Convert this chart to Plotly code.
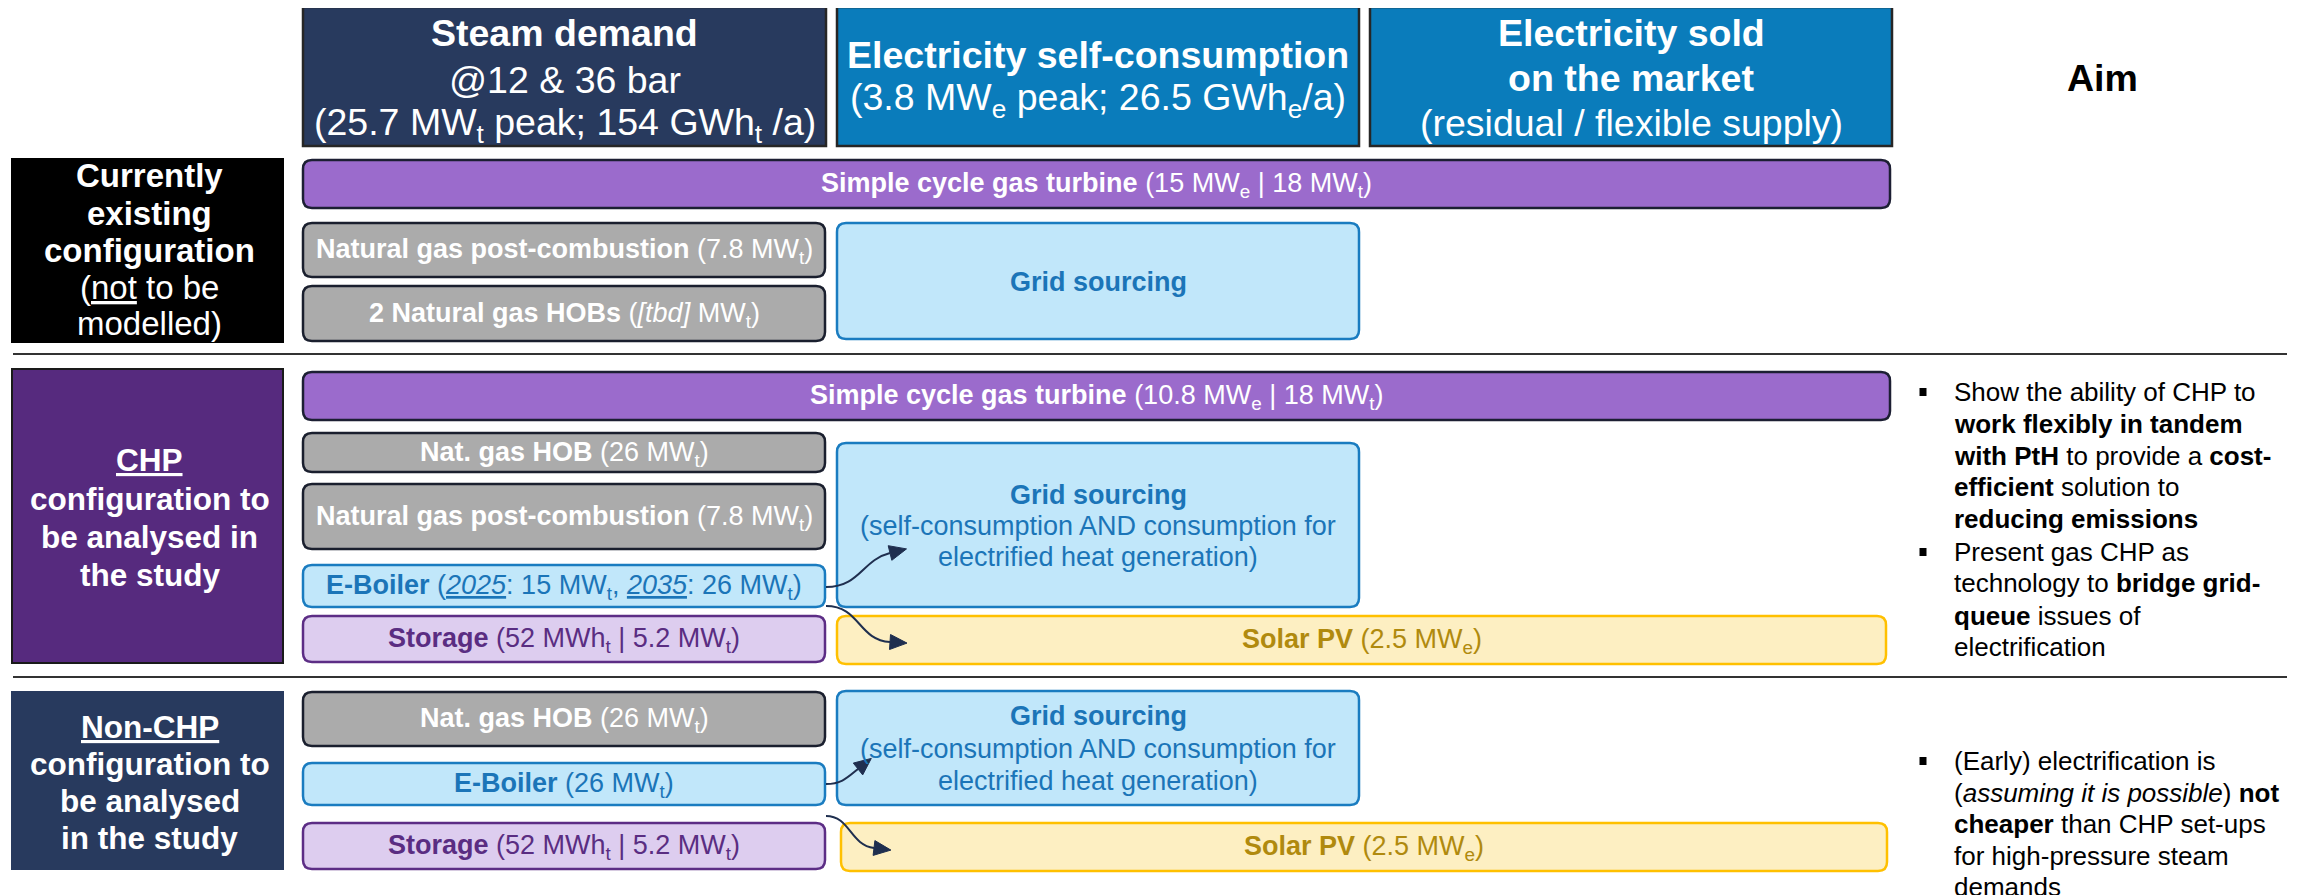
import plotly.graph_objects as go

W, H = 2315, 895
OFF = 8  # default page margin of the browser body
FONT = "Liberation Sans, Arial, sans-serif"

# ---------------- content ----------------
header_titles = [
    ["<b>Steam demand</b>", "@12 &amp; 36 bar", "(25.7 MW<sub>t</sub> peak; 154 GWh<sub>t</sub> /a)"],
    ["<b>Electricity self-consumption</b>", "(3.8 MW<sub>e</sub> peak; 26.5 GWh<sub>e</sub>/a)"],
    ["<b>Electricity sold</b>", "<b>on the market</b>", "(residual / flexible supply)"],
]
aim_title = "<b>Aim</b>"

row_labels = [
    ["<b>Currently</b>", "<b>existing</b>", "<b>configuration</b>", "(<u>not</u> to be", "modelled)"],
    ["<b><u>CHP</u></b>", "<b>configuration to</b>", "<b>be analysed in</b>", "<b>the study</b>"],
    ["<b><u>Non-CHP</u></b>", "<b>configuration to</b>", "<b>be analysed</b>", "<b>in the study</b>"],
]

tech_labels = [
    # row 1
    ["<b>Simple cycle gas turbine</b> (15 MW<sub>e</sub> | 18 MW<sub>t</sub>)"],
    ["<b>Natural gas post-combustion</b> (7.8 MW<sub>t</sub>)"],
    ["<b>2 Natural gas HOBs</b> (<i>[tbd]</i> MW<sub>t</sub>)"],
    ["<b>Grid sourcing</b>"],
    # row 2
    ["<b>Simple cycle gas turbine</b> (10.8 MW<sub>e</sub> | 18 MW<sub>t</sub>)"],
    ["<b>Nat. gas HOB</b> (26 MW<sub>t</sub>)"],
    ["<b>Natural gas post-combustion</b> (7.8 MW<sub>t</sub>)"],
    ["<b>E-Boiler</b> (<u><i>2025</i></u>: 15 MW<sub>t</sub>, <u><i>2035</i></u>: 26 MW<sub>t</sub>)"],
    ["<b>Storage</b> (52 MWh<sub>t</sub> | 5.2 MW<sub>t</sub>)"],
    ["<b>Grid sourcing</b>", "(self-consumption AND consumption for", "electrified heat generation)"],
    ["<b>Solar PV</b> (2.5 MW<sub>e</sub>)"],
    # row 3
    ["<b>Nat. gas HOB</b> (26 MW<sub>t</sub>)"],
    ["<b>E-Boiler</b> (26 MW<sub>t</sub>)"],
    ["<b>Storage</b> (52 MWh<sub>t</sub> | 5.2 MW<sub>t</sub>)"],
    ["<b>Grid sourcing</b>", "(self-consumption AND consumption for", "electrified heat generation)"],
    ["<b>Solar PV</b> (2.5 MW<sub>e</sub>)"],
]
tech_kinds = ["gt", "gray", "gray", "grid",
              "gt", "gray", "gray", "eboiler", "storage", "grid", "solar",
              "gray", "eboiler", "storage", "grid", "solar"]

aim_bullets = [
    ["Show the ability of CHP to", "<b>work flexibly in tandem</b>",
     "<b>with PtH</b> to provide a <b>cost-</b>", "<b>efficient</b> solution to",
     "<b>reducing emissions</b>"],
    ["Present gas CHP as", "technology to <b>bridge grid-</b>",
     "<b>queue</b> issues of", "electrification"],
    ["(Early) electrification is", "(<i>assuming it is possible</i>) <b>not</b>",
     "<b>cheaper</b> than CHP set-ups", "for high-pressure steam", "demands"],
]

# ---------------- geometry / styles ----------------
header_boxes = [(303, 7, 826, 146), (837, 7, 1359, 146), (1370, 7, 1892, 146)]
header_fill = ["#283a5e", "#0a7cbb", "#0a7cbb"]
header_line_y = [[33, 80, 125], [55, 100], [33, 78, 123]]
aim_pos = (2102, 78)

label_boxes = [(12, 159, 283, 342), (12, 369, 283, 663), (12, 692, 283, 869)]
label_fill = ["#000000", "#562a7e", "#283a5e"]
label_border = ["#000000", "#1a1a1a", "#283a5e"]
label_sizes = [33, 31.5, 31.5]
label_line_y = [[175, 213, 250, 287, 323], [460, 499, 537, 575], [727, 764, 801, 838]]

tech_boxes = [
    (303, 160, 1890, 208), (303, 223, 825, 277), (303, 286, 825, 341), (837, 223, 1359, 339),
    (303, 372, 1890, 420), (303, 433, 825, 472), (303, 484, 825, 549), (303, 565, 825, 607),
    (303, 616, 825, 662), (837, 443, 1359, 607), (837, 616, 1886, 664),
    (303, 692, 825, 746), (303, 763, 825, 805), (303, 823, 825, 869), (837, 691, 1359, 805),
    (841, 823, 1887, 871),
]
tech_line_y = {9: [495, 526, 557], 14: [716, 749, 781]}

styles = {
    "gt": dict(fill="#9b6bcc", line="#1c1f33", text="#ffffff"),
    "gray": dict(fill="#ababab", line="#1a1f2e", text="#ffffff"),
    "grid": dict(fill="#c1e7fa", line="#1a7cc0", text="#1b75b8"),
    "eboiler": dict(fill="#c1e7fa", line="#1a7cc0", text="#1b75b8"),
    "storage": dict(fill="#ddcdef", line="#5c2d85", text="#5a2d82"),
    "solar": dict(fill="#fdefc2", line="#ffc000", text="#b08a0e"),
}

HEADER_SIZE, BOX_SIZE, AIM_SIZE = 37.5, 27, 26

separators_y = [354, 677]
aim_x_bullet, aim_x_text = 1923, 1952
aim_line_y = [[392, 424, 456, 487, 519], [552, 583, 616, 647], [761, 793, 824, 856, 887]]

# arrows: P0, C1, C2, P3 (curve), head drawn along C2->P3 tangent
arrows = [
    [(826, 587), (860, 587), (862, 560), (890, 553)],
    [(826, 606), (860, 606), (858, 640), (890, 642)],
    [(826, 784), (842, 784), (848, 777), (858, 769)],
    [(826, 816), (850, 816), (850, 845), (874, 848)],
]
ARROW_COLOR = "#1f2f4f"

# ---------------- build ----------------
fig = go.Figure()
fig.add_trace(go.Scatter(x=[OFF, W], y=[OFF, H], mode="markers",
                         marker=dict(opacity=0), hoverinfo="skip", showlegend=False))

shapes = []
annotations = []


def rrect(x0, y0, x1, y1, r=8):
    return (f"M{x0+r},{y0} L{x1-r},{y0} Q{x1},{y0} {x1},{y0+r} L{x1},{y1-r} "
            f"Q{x1},{y1} {x1-r},{y1} L{x0+r},{y1} Q{x0},{y1} {x0},{y1-r} "
            f"L{x0},{y0+r} Q{x0},{y0} {x0+r},{y0} Z")


def text(x, y, t, size, color, xanchor="center"):
    annotations.append(dict(x=x, y=y, xref="x", yref="y", text=t, showarrow=False,
                            xanchor=xanchor, yanchor="middle",
                            font=dict(family=FONT, size=size, color=color)))


# headers
for (x0, y0, x1, y1), fill, lines, ys in zip(header_boxes, header_fill, header_titles, header_line_y):
    shapes.append(dict(type="rect", x0=x0, y0=y0, x1=x1, y1=y1, xref="x", yref="y",
                       fillcolor=fill, line=dict(color="#262626", width=2.5), layer="below"))
    for t, yy in zip(lines, ys):
        text((x0 + x1) / 2, yy, t, HEADER_SIZE, "#ffffff")
text(aim_pos[0], aim_pos[1], aim_title, HEADER_SIZE, "#000000")

# row labels
for (x0, y0, x1, y1), fill, bc, sz, lines, ys in zip(label_boxes, label_fill, label_border,
                                                     label_sizes, row_labels, label_line_y):
    shapes.append(dict(type="rect", x0=x0, y0=y0, x1=x1, y1=y1, xref="x", yref="y",
                       fillcolor=fill, line=dict(color=bc, width=2), layer="below"))
    for t, yy in zip(lines, ys):
        text((x0 + x1) / 2 + 2, yy, t, sz, "#ffffff")

# separators
for sy in separators_y:
    shapes.append(dict(type="line", x0=13, x1=2287, y0=sy, y1=sy, xref="x", yref="y",
                       line=dict(color="#333333", width=2)))

# technology boxes
for i, ((x0, y0, x1, y1), kind, lines) in enumerate(zip(tech_boxes, tech_kinds, tech_labels)):
    st = styles[kind]
    shapes.append(dict(type="path", path=rrect(x0, y0, x1, y1, 9), xref="x", yref="y",
                       fillcolor=st["fill"], line=dict(color=st["line"], width=2.5), layer="below"))
    if i in tech_line_y:
        ys = tech_line_y[i]
    else:
        ys = [(y0 + y1) / 2 + 1]
    for t, yy in zip(lines, ys):
        text((x0 + x1) / 2, yy, t, BOX_SIZE, st["text"])

# arrows
for p0, c1, c2, p3 in arrows:
    shapes.append(dict(type="path",
                       path=f"M{p0[0]},{p0[1]} C{c1[0]},{c1[1]} {c2[0]},{c2[1]} {p3[0]},{p3[1]}",
                       xref="x", yref="y", line=dict(color=ARROW_COLOR, width=2)))
    dx, dy = p3[0] - c2[0], p3[1] - c2[1]
    n = (dx ** 2 + dy ** 2) ** 0.5
    ux, uy = dx / n, dy / n
    px, py = -uy, ux
    L, Wd = 17, 15
    tip = (p3[0] + ux * L, p3[1] + uy * L)
    b1 = (p3[0] + px * Wd / 2, p3[1] + py * Wd / 2)
    b2 = (p3[0] - px * Wd / 2, p3[1] - py * Wd / 2)
    shapes.append(dict(type="path",
                       path=f"M{tip[0]:.1f},{tip[1]:.1f} L{b1[0]:.1f},{b1[1]:.1f} L{b2[0]:.1f},{b2[1]:.1f} Z",
                       xref="x", yref="y", fillcolor=ARROW_COLOR, line=dict(color=ARROW_COLOR, width=1)))

# aim bullets
for lines, ys in zip(aim_bullets, aim_line_y):
    by = ys[0]
    shapes.append(dict(type="rect", x0=aim_x_bullet - 3.5, x1=aim_x_bullet + 3.5,
                       y0=by - 4, y1=by + 4, xref="x", yref="y",
                       fillcolor="#000000", line=dict(width=0)))
    for t, yy in zip(lines, ys):
        text(aim_x_text, yy, t, AIM_SIZE, "#000000", xanchor="left")

fig.update_layout(
    width=W - OFF, height=H - OFF, margin=dict(l=0, r=0, t=0, b=0),
    paper_bgcolor="#ffffff", plot_bgcolor="#ffffff",
    font=dict(family=FONT),
    xaxis=dict(range=[OFF, W], visible=False, fixedrange=True),
    yaxis=dict(range=[H, OFF], visible=False, fixedrange=True),
    shapes=shapes, annotations=annotations, showlegend=False,
)

fig.write_html("out.html")
